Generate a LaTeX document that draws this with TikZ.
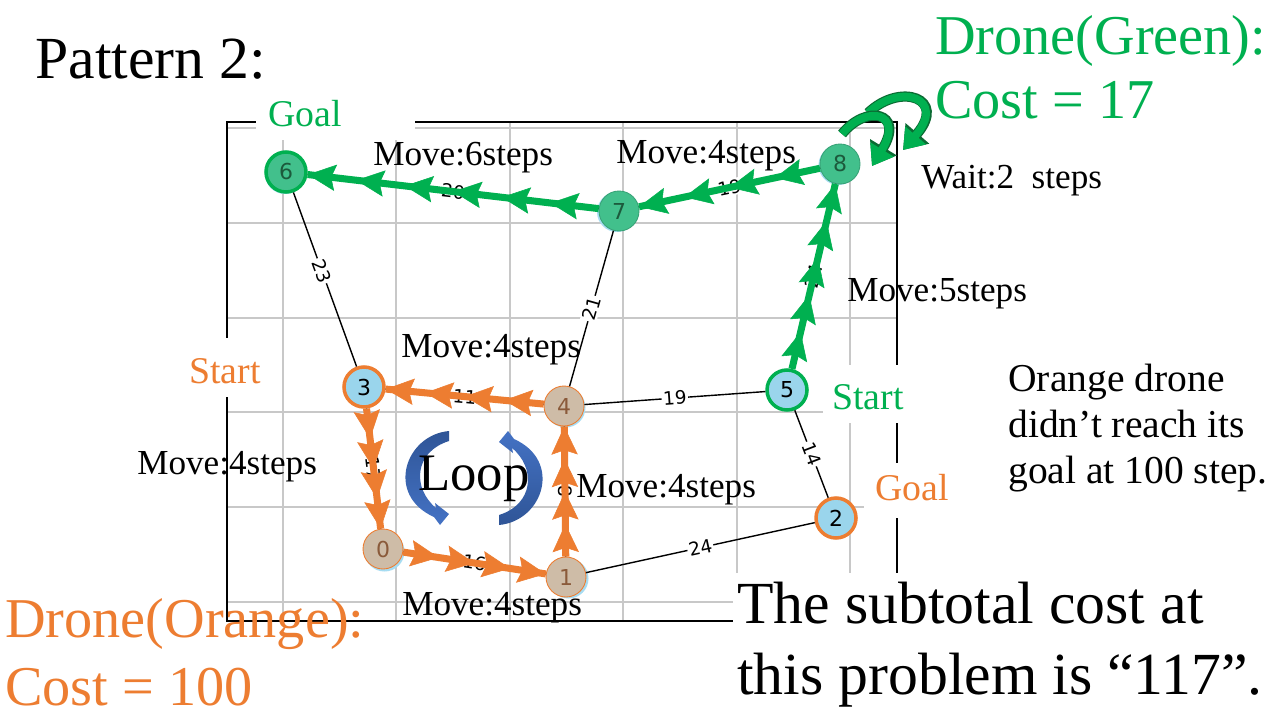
\documentclass[tikz,border=0pt]{standalone}
\usepackage{fontspec}
\setmainfont{Liberation Serif}
\newfontfamily\numfont{DejaVu Sans}
\usetikzlibrary{arrows.meta,decorations.markings}
\definecolor{ogreen}{HTML}{00B050}
\definecolor{oorange}{HTML}{ED7D31}
\definecolor{gnode}{HTML}{42C08C}
\definecolor{bnode}{HTML}{9AD5EC}
\definecolor{tnode}{HTML}{CEBCA7}
\definecolor{shadowblue}{HTML}{A6DCF2}
\definecolor{gridgray}{HTML}{C8C8C8}
\definecolor{tantext}{HTML}{8A5A3A}
\definecolor{gtext}{HTML}{1C5A3C}
\definecolor{loopdark}{HTML}{2F5597}
\definecolor{looplight}{HTML}{4472C4}
\definecolor{waitdark}{HTML}{0B6B33}
\begin{document}
\begin{tikzpicture}[x=0.02cm,y=-0.02cm,
 vtx/.style={circle, minimum size=0.8cm, inner sep=0pt, font=\numfont\fontsize{12.5pt}{13pt}\selectfont},
 gv/.style={vtx, fill=gnode, draw=gnode!85!black, line width=0.5pt, text=gtext},
 tv/.style={vtx, fill=tnode, draw=oorange, line width=0.5pt, text=tantext},
 bv/.style={vtx, fill=bnode, line width=2pt, text=black},
 shd/.style={vtx, fill=shadowblue},
 edge/.style={draw=black, line width=0.8pt},
 elab/.style={fill=white, inner sep=0.8pt, sloped, font=\numfont\fontsize{10.5pt}{11pt}\selectfont},
 mv/.style 2 args={draw=#1, color=#1, line width=4pt, postaction={decorate},
   decoration={markings,
     mark=between positions 1/#2 and 0.99 step 1/#2 with {\arrow{Stealth[length=16pt,width=15pt,inset=2.5pt,line width=0.3pt]}},
     mark=at position 0.9999 with {\arrow{Stealth[length=16pt,width=15pt,inset=2.5pt,line width=0.3pt]}}}},
 movetxt/.style={anchor=base west, inner sep=0pt, font=\fontsize{20pt}{24pt}\selectfont},
 bigtxt/.style={anchor=base west, inner sep=0pt, font=\fontsize{34pt}{40pt}\selectfont},
 dronetxt/.style={anchor=base west, inner sep=0pt, font=\fontsize{32pt}{38pt}\selectfont},
 lbltxt/.style={anchor=base west, inner sep=0pt, font=\fontsize{21.5pt}{26pt}\selectfont},
 notetxt/.style={anchor=base west, inner sep=0pt, font=\fontsize{22.5pt}{27pt}\selectfont},
 waitarr/.style={draw=ogreen, line width=4.5pt, -{Triangle[length=11pt,width=15pt]},
   preaction={draw=waitdark, line width=5.8pt, -{Triangle[length=12.5pt,width=17pt]}}}
]
\useasboundingbox (0,0) rectangle (1280,720);
\fill[white] (0,0) rectangle (1280,720);
% grid
\foreach \gx in {283,396,510,623,737,850} \draw[gridgray, line width=0.85pt] (\gx,122) -- (\gx,621);
\foreach \gy in {128,223,318,412,507,602} \draw[gridgray, line width=0.85pt] (227,\gy) -- (897,\gy);
\draw[black, line width=0.85pt] (227,122) rectangle (897,621);
% white label boxes
\fill[white] (256,88) rectangle (415,140);
\fill[white] (183,338) rectangle (270,397);
\fill[white] (823,365) rectangle (912,423);
\fill[white] (864,463) rectangle (955,518);
\fill[white] (733,573) rectangle (1220,712);
% shadows
\node[shd] (s0) at (384.5,551.5) {};
\node[shd] (s1) at (568.5,578.5) {};
\node[shd] (s4) at (565.5,407.5) {};
\node[shd] (s7) at (617,212) {};
\node[shd] (s8) at (838.5,165) {};
\node[shd] (s6) at (285,174) {};
% nodes
\node[gv, draw=ogreen, line width=2pt] (n6) at (286,172) {6};
\node[gv] (n7) at (619,211) {7};
\node[gv] (n8) at (840,164) {8};
\node[bv, draw=oorange] (n3) at (364,387) {3};
\node[tv] (n4) at (564,406) {4};
\node[bv, draw=ogreen] (n5) at (787,390) {5};
\node[tv] (n0) at (383,549) {0};
\node[tv] (n1) at (566,577) {1};
\node[bv, draw=oorange] (n2) at (836,518) {2};
% graph edges
\draw[edge] (n6) -- node[elab, pos=0.45] {23} (n3);
\draw[edge] (n7) -- node[elab] {21} (n4);
\draw[edge] (n4) -- node[elab] {19} (n5);
\draw[edge] (n5) -- node[elab] {14} (n2);
\draw[edge] (n1) -- node[elab] {24} (n2);
\draw[edge] (n3) -- node[elab] {11} (n4);
\draw[edge] (n3) -- node[elab] {17} (n0);
\draw[edge] (n0) -- node[elab] {16} (n1);
\draw[edge] (n1) -- node[elab] {8} (n4);
\draw[edge] (n6) -- node[elab] {20} (n7);
\draw[edge] (n7) -- node[elab] {19} (n8);
\draw[edge] (n5) -- node[elab] {24} (n8);
% drone routes
\draw[mv={oorange}{4}] (n3) -- (n0);
\draw[mv={oorange}{4}] (n0) -- (n1);
\draw[mv={oorange}{4}] (n1) -- (n4);
\draw[mv={oorange}{4}] (n4) -- (n3);
\draw[mv={ogreen}{5}] (n5) -- (n8);
\draw[mv={ogreen}{4}] (n8) -- (n7);
\draw[mv={ogreen}{6}] (n7) -- (n6);
% wait arrows
\coordinate (wa1) at (842,134);
\coordinate (wa2) at (872,166);
\coordinate (wb1) at (868,113);
\coordinate (wb2) at (903,150);
\draw[waitarr] (wb1) .. controls (900,82) and (948,98) .. (wb2);
\draw[waitarr] (wa1) .. controls (866,104) and (905,112) .. (wa2);
% loop arrows
\shade[top color=loopdark, bottom color=looplight]
  (449,431) .. controls (405,435) and (385,495) .. (434,517) -- (440,525) -- (449,514) -- (435,503) -- (436,508)
  .. controls (412,488) and (414,452) .. (449,441) -- cycle;
\shade[top color=looplight, bottom color=loopdark]
  (499,525) .. controls (543,521) and (563,461) .. (514,439) -- (508,431) -- (499,442) -- (513,453) -- (512,448)
  .. controls (536,468) and (534,504) .. (499,515) -- cycle;
\node[anchor=base, inner sep=0pt, font=\fontsize{30pt}{36pt}\selectfont] (loop) at (474,490) {Loop};
% move labels
\node[movetxt] (m76) at (373,165) {Move:6steps};
\node[movetxt] (m87) at (616,163) {Move:4steps};
\node[movetxt] (w8) at (921,188) {Wait:2\ \ steps};
\node[movetxt] (m58) at (847,301) {Move:5steps};
\node[movetxt] (m43) at (401,357) {Move:4steps};
\node[movetxt] (m30) at (137,474) {Move:4steps};
\node[movetxt] (m14) at (576,497) {Move:4steps};
\node[movetxt] (m01) at (402,615) {Move:4steps};
% start / goal
\node[lbltxt, text=ogreen] (gg) at (268,126) {Goal};
\node[lbltxt, text=oorange] (os) at (189,383) {Start};
\node[lbltxt, text=ogreen] (gs) at (832,409) {Start};
\node[lbltxt, text=oorange] (og) at (875,500) {Goal};
% titles
\node[bigtxt] (title) at (35,78) {Pattern 2:};
\node[dronetxt, text=ogreen] (dg1) at (935,54) {Drone(Green):};
\node[dronetxt, text=ogreen] (dg2) at (935,118) {Cost = 17};
\node[dronetxt, text=oorange] (do1) at (5,637) {Drone(Orange):};
\node[dronetxt, text=oorange] (do2) at (5,705) {Cost = 100};
\node[notetxt] (nt1) at (1008,391) {Orange drone};
\node[notetxt] (nt2) at (1008,437) {didn’t reach its};
\node[notetxt] (nt3) at (1008,483) {goal at 100 step.};
\node[bigtxt] (st1) at (737,623) {The subtotal cost at};
\node[bigtxt] (st2) at (737,694) {this problem is “117”.};
\end{tikzpicture}
\end{document}
